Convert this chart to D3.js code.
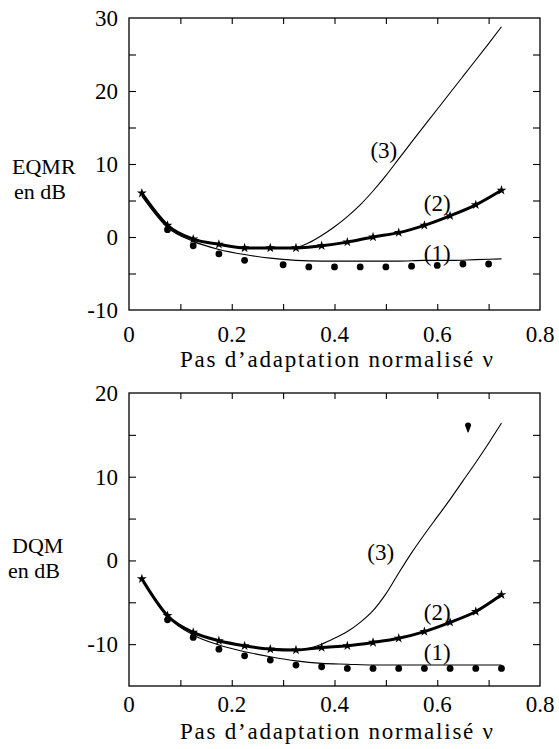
<!DOCTYPE html>
<html>
<head>
<meta charset="utf-8">
<script src="https://cdn.jsdelivr.net/npm/d3@7"></script>
<style>
  body { margin: 0; background: #fff; }
</style>
</head>
<body>
<div id="chart"></div>
<script>
// ---- data ----
var xStar = [0.025, 0.075, 0.125, 0.175, 0.225, 0.275, 0.325, 0.375, 0.425, 0.475, 0.525, 0.575, 0.625, 0.675, 0.725];

// EQMR (top panel)
var eqmr2 = [6.0, 1.6, -0.3, -1.0, -1.5, -1.5, -1.5, -1.2, -0.7, 0.0, 0.6, 1.6, 2.9, 4.4, 6.4];
var eqmr1Line = [5.6, 1.3, -0.6, -1.7, -2.4, -2.9, -3.2, -3.3, -3.3, -3.3, -3.3, -3.2, -3.2, -3.1, -3.0];
var eqmr1DotX = [0.075, 0.125, 0.175, 0.225, 0.3, 0.35, 0.4, 0.45, 0.5, 0.55, 0.6, 0.65, 0.7];
var eqmr1DotY = [1.0, -1.2, -2.3, -3.2, -3.8, -4.1, -4.1, -4.1, -4.1, -4.0, -3.9, -3.7, -3.7];
var eqmr3X = [0.025, 0.075, 0.125, 0.175, 0.225, 0.275, 0.325, 0.35, 0.375, 0.4, 0.425, 0.45, 0.475, 0.5, 0.525, 0.55, 0.6, 0.65, 0.7, 0.725];
var eqmr3Y = [6.0, 1.6, -0.3, -1.0, -1.5, -1.5, -1.4, -0.8, 0.2, 1.4, 2.8, 4.4, 6.3, 8.4, 10.7, 13.0, 17.5, 22.0, 26.5, 28.8];

// DQM (bottom panel)
var dqm2 = [-2.2, -6.6, -8.6, -9.6, -10.2, -10.6, -10.7, -10.4, -10.2, -9.8, -9.3, -8.5, -7.4, -6.1, -4.1];
var dqm1Line = [-2.2, -6.7, -8.9, -10.1, -10.9, -11.5, -12.0, -12.3, -12.4, -12.5, -12.5, -12.5, -12.5, -12.5, -12.5];
var dqm1DotX = [0.075, 0.125, 0.175, 0.225, 0.275, 0.325, 0.375, 0.425, 0.475, 0.525, 0.575, 0.625, 0.675, 0.725];
var dqm1DotY = [-7.1, -9.2, -10.6, -11.4, -11.9, -12.5, -12.7, -12.9, -12.9, -12.9, -12.9, -12.9, -12.9, -12.9];
var dqm3X = [0.025, 0.075, 0.125, 0.175, 0.225, 0.275, 0.325, 0.35, 0.375, 0.4, 0.425, 0.45, 0.475, 0.5, 0.525, 0.55, 0.575, 0.6, 0.625, 0.65, 0.675, 0.7, 0.725];
var dqm3Y = [-2.2, -6.6, -8.6, -9.6, -10.2, -10.6, -10.7, -10.5, -10.0, -9.3, -8.5, -7.4, -6.0, -4.0, -1.5, 0.9, 3.1, 5.2, 7.3, 9.5, 11.7, 14.0, 16.4];
var dqmOutlier = [0.66, 16.0];

// axes
var xTicks = [0, 0.2, 0.4, 0.6, 0.8];
var xTickLabels = ["0", "0.2", "0.4", "0.6", "0.8"];
var eqmrTicks = [-10, 0, 10, 20, 30];
var dqmTicks = [-10, 0, 10, 20];
var xTitle = "Pas d\u2019adaptation normalis\u00e9 \u03bd";

var curveNames = ["(1)", "(2)", "(3)"];
var eqmrLabelPos = [[0.600, -2.2], [0.600, 4.7], [0.496, 11.9]];
var dqmLabelPos = [[0.600, -10.9], [0.600, -6.2], [0.490, 1.0]];

//==========layout==========
var width = 559, height = 749;
var left = 129, right = 540;
var serif = "Liberation Serif";

var svg = d3.select("#chart").append("svg")
  .attr("width", width)
  .attr("height", height);

var zip = function(xs, ys) {
  return xs.map(function(x, i) { return [x, ys[i]]; });
};

var drawPanel = function(p) {
  var x = d3.scaleLinear().domain([0, 0.8]).range([left, right]);
  var y = d3.scaleLinear().domain(p.yDomain).range([p.bottom, p.top]);
  var g = svg.append("g");

  // frame with inward ticks on all four sides
  g.append("rect")
    .attr("x", left).attr("y", p.top)
    .attr("width", right - left).attr("height", p.bottom - p.top)
    .attr("fill", "none").attr("stroke", "#000").attr("stroke-width", 1.3);

  var xMinor = d3.range(1, 8).map(function(d) { return d / 10; });
  var yMinor = d3.range(p.yDomain[0] + 5, p.yDomain[1], 5);

  g.append("g")
    .attr("transform", "translate(0," + p.bottom + ")")
    .call(d3.axisTop(x).tickValues(xMinor).tickSize(6).tickFormat(""))
    .call(function(a) { a.select(".domain").remove(); });
  g.append("g")
    .attr("transform", "translate(0," + p.top + ")")
    .call(d3.axisBottom(x).tickValues(xMinor).tickSize(6).tickFormat(""))
    .call(function(a) { a.select(".domain").remove(); });
  g.append("g")
    .attr("transform", "translate(" + left + ",0)")
    .call(d3.axisRight(y).tickValues(yMinor).tickSize(7).tickFormat(""))
    .call(function(a) { a.select(".domain").remove(); });
  g.append("g")
    .attr("transform", "translate(" + right + ",0)")
    .call(d3.axisLeft(y).tickValues(yMinor).tickSize(7).tickFormat(""))
    .call(function(a) { a.select(".domain").remove(); });
  g.selectAll(".tick line").attr("stroke-width", 1.1);

  // tick labels
  g.selectAll(".xlab").data(xTicks).enter().append("text")
    .attr("x", function(d) { return x(d); })
    .attr("y", p.bottom + p.tickDy)
    .attr("text-anchor", "middle")
    .attr("font-family", serif)
    .attr("font-size", 23)
    .text(function(d, i) { return xTickLabels[i]; });

  g.selectAll(".ylab").data(p.yTicks).enter().append("text")
    .attr("x", left - 11)
    .attr("y", function(d) { return y(d) + 8; })
    .attr("text-anchor", "end")
    .attr("font-family", serif)
    .attr("font-size", 23)
    .text(function(d) { return d; });

  g.append("text")
    .attr("x", 180)
    .attr("y", p.bottom + p.titleDy)
    .attr("font-family", serif)
    .attr("font-size", 23)
    .attr("textLength", 313)
    .attr("lengthAdjust", "spacing")
    .text(xTitle);

  g.append("text").attr("x", 12).attr("y", p.nameY)
    .attr("font-family", serif)
    .attr("font-size", 22).text(p.name);
  g.append("text").attr("x", p.unitX).attr("y", p.nameY + 25)
    .attr("font-family", serif)
    .attr("font-size", 22).text("en dB");

  var line = d3.line()
    .x(function(d) { return x(d[0]); })
    .y(function(d) { return y(d[1]); })
    .curve(d3.curveMonotoneX);

  // curve 3: thin
  g.append("path").datum(zip(p.c3x, p.c3y))
    .attr("d", line).attr("fill", "none")
    .attr("stroke", "#000").attr("stroke-width", 1.1);

  // curve 1: thin line + dots
  g.append("path").datum(zip(xStar, p.c1line))
    .attr("d", line).attr("fill", "none")
    .attr("stroke", "#000").attr("stroke-width", 1.1);
  g.selectAll(".dot").data(zip(p.dotX, p.dotY)).enter().append("circle")
    .attr("cx", function(d) { return x(d[0]); })
    .attr("cy", function(d) { return y(d[1]); })
    .attr("r", 3.4)
    .attr("fill", "#000");

  // curve 2: thick + stars
  g.append("path").datum(zip(xStar, p.c2))
    .attr("d", line).attr("fill", "none")
    .attr("stroke", "#000").attr("stroke-width", 3);
  var star = d3.symbol().type(d3.symbolStar).size(30);
  g.selectAll(".star").data(zip(xStar, p.c2)).enter().append("path")
    .attr("d", star)
    .attr("transform", function(d) { return "translate(" + x(d[0]) + "," + y(d[1]) + ")"; })
    .attr("fill", "#000");

  if (p.outlier) {
    g.append("path")
      .attr("d", "M-3,-1 A3,3 0 1,1 3,-1 L0.4,6 L-0.4,6 Z")
      .attr("transform", "translate(" + x(p.outlier[0]) + "," + y(p.outlier[1]) + ")")
      .attr("fill", "#000");
  }

  g.selectAll(".clab").data(p.labelPos).enter().append("text")
    .attr("x", function(d) { return x(d[0]); })
    .attr("y", function(d) { return y(d[1]) + 8; })
    .attr("text-anchor", "middle")
    .attr("font-family", serif)
    .attr("font-size", 23)
    .text(function(d, i) { return curveNames[i]; });
};

drawPanel({
  top: 18, bottom: 310, yDomain: [-10, 30], yTicks: eqmrTicks,
  tickDy: 32, titleDy: 57, name: "EQMR", nameY: 174, unitX: 14,
  c2: eqmr2, c1line: eqmr1Line, dotX: eqmr1DotX, dotY: eqmr1DotY,
  c3x: eqmr3X, c3y: eqmr3Y, labelPos: eqmrLabelPos
});

drawPanel({
  top: 393, bottom: 686, yDomain: [-15, 20], yTicks: dqmTicks,
  tickDy: 26, titleDy: 53, name: "DQM", nameY: 553, unitX: 8,
  c2: dqm2, c1line: dqm1Line, dotX: dqm1DotX, dotY: dqm1DotY,
  c3x: dqm3X, c3y: dqm3Y, labelPos: dqmLabelPos, outlier: dqmOutlier
});
</script>
</body>
</html>
